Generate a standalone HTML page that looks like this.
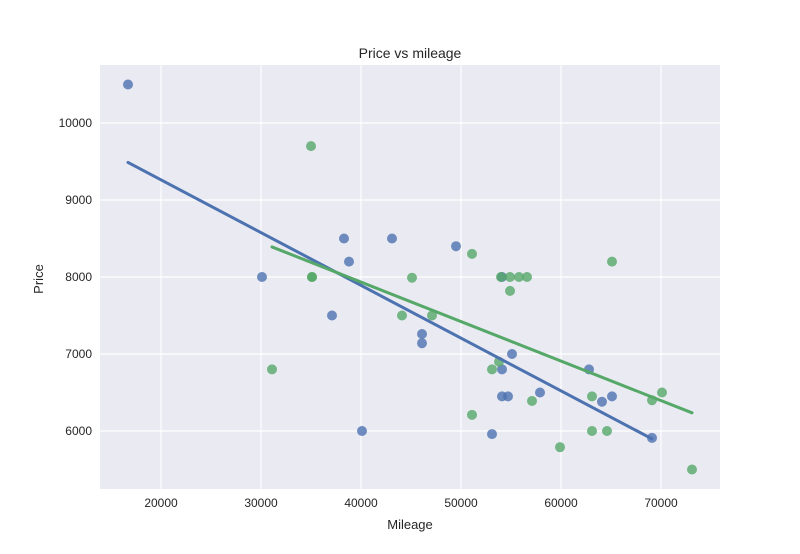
<!DOCTYPE html>
<html><head><meta charset="utf-8"><style>
body{margin:0;background:#fff;font-family:"Liberation Sans",sans-serif;}
</style></head><body>
<svg id="chart" width="800" height="549" xmlns="http://www.w3.org/2000/svg" font-family="Liberation Sans, sans-serif"></svg>
<script>
const xTicks=[20000,30000,40000,50000,60000,70000];
const yTicks=[6000,7000,8000,9000,10000];
const blueMileage=[16700,30100,38300,38800,37100,43100,49500,40100,46100,46100,54100,55100,54100,54100,54700,57900,53100,62800,64100,65100,69100];
const bluePrice=[10500,8000,8500,8200,7500,8500,8400,6000,7260,7140,8000,7000,6800,6450,6450,6500,5960,6800,6380,6450,5910];
const greenMileage=[31100,35100,35100,35000,45100,44100,47100,51100,51100,53100,53800,54000,54900,55800,56600,54900,65100,57100,59900,63100,63100,64600,69100,70100,73100];
const greenPrice=[6800,8000,8000,9700,7990,7500,7500,8300,6210,6800,6900,8000,8000,8000,8000,7820,8200,6390,5790,6450,6000,6000,6400,6500,5500];
const L=100,R=720,T=65,B=489;
const X=v=>161+(v-20000)/100;
const Y=v=>123+(10000-v)*0.077;
const svg=document.getElementById('chart');
const NS='http://www.w3.org/2000/svg';
function mk(t,a,p){const e=document.createElementNS(NS,t);for(const k in a)e.setAttribute(k,a[k]);(p||svg).appendChild(e);return e;}
const bg=mk('rect',{x:L,y:T,width:R-L,height:B-T,fill:'#eaeaf2'});


xTicks.forEach(v=>{
 const g=mk('line',{x1:X(v),x2:X(v),y1:T,y2:B,stroke:'#fff','stroke-width':1.2});
 
 
 const t=mk('text',{x:X(v),y:B+18,'text-anchor':'middle','font-size':12,fill:'#262626'});t.textContent=v;
 
 
});
yTicks.forEach(v=>{
 const g=mk('line',{x1:L,x2:R,y1:Y(v),y2:Y(v),stroke:'#fff','stroke-width':1.2});
 
 
 const t=mk('text',{x:L-8,y:Y(v)+4,'text-anchor':'end','font-size':12,fill:'#262626'});t.textContent=v;
 
 
});
function fit(xs,ys,color,name){
 const n=xs.length,mx=xs.reduce((a,b)=>a+b)/n,my=ys.reduce((a,b)=>a+b)/n;
 let sxy=0,sxx=0;xs.forEach((x,i)=>{sxy+=(x-mx)*(ys[i]-my);sxx+=(x-mx)*(x-mx);});
 const b=sxy/sxx,a=my-b*mx,x0=Math.min(...xs),x1=Math.max(...xs);
 const l=mk('line',{x1:X(x0),y1:Y(a+b*x0),x2:X(x1),y2:Y(a+b*x1),stroke:color,'stroke-width':3,'stroke-linecap':'round'});
 
 
}
function pts(xs,ys,color,name){
 xs.forEach((x,i)=>{
  const c=mk('circle',{cx:X(x),cy:Y(ys[i]),r:5,fill:color,'fill-opacity':0.8});
  
  
 });
}
pts(blueMileage,bluePrice,'#4c72b0','blue-point');
pts(greenMileage,greenPrice,'#55a868','green-point');
fit(blueMileage,bluePrice,'#4c72b0','blue-regression-line');
fit(greenMileage,greenPrice,'#55a868','green-regression-line');
const title=mk('text',{x:410,y:58,'text-anchor':'middle','font-size':14,fill:'#262626'});title.textContent='Price vs mileage';


const xl=mk('text',{x:410,y:529,'text-anchor':'middle','font-size':13,fill:'#262626'});xl.textContent='Mileage';


const yl=mk('text',{x:43,y:279,'text-anchor':'middle','font-size':13,fill:'#262626',transform:'rotate(-90 43 279)'});yl.textContent='Price';


</script>
</body></html>
